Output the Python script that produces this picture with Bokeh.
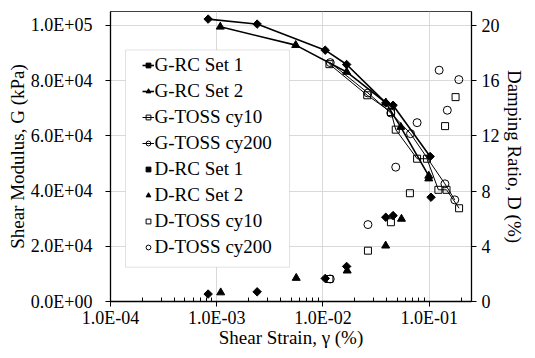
from bokeh.plotting import figure
from bokeh.models import (Range1d, LinearAxis, FixedTicker, CustomJSTickFormatter,
                          Legend, LegendItem, BoxAnnotation)
from bokeh.embed import file_html
from bokeh.resources import INLINE
import numpy as np

# ---- data ----
g_rc1_x = [8.3e-4, 2.4e-3, 0.0105, 0.0167, 0.039, 0.0457, 0.102]
g_rc1_y = [102250, 100440, 91000, 85800, 71900, 71050, 52500]

g_rc2_x = [1.08e-3, 5.54e-3, 0.0167, 0.039, 0.054, 0.099]
g_rc2_y = [99460, 92820, 83100, 72000, 63160, 45500]

g_t10_x = [0.0115, 0.0261, 0.0437, 0.0484, 0.0769, 0.0952, 0.122, 0.1455, 0.191]
g_t10_y = [85930, 74670, 68600, 62220, 51700, 51700, 40440, 40440, 33760]

g_t200_x = [0.0117, 0.0265, 0.0435, 0.0667, 0.1405, 0.174]
g_t200_y = [86500, 75500, 68240, 60770, 42600, 36800]

d_rc1_x = [8.3e-4, 2.4e-3, 0.0105, 0.0167, 0.039, 0.0457, 0.104]
d_rc1_y = [0.54, 0.70, 1.67, 2.54, 6.10, 6.22, 7.55]

d_rc2_x = [1.09e-3, 5.6e-3, 0.0169, 0.0389, 0.0548, 0.099]
d_rc2_y = [0.65, 1.70, 2.23, 4.04, 5.98, 8.90]

d_t10_x = [0.0115, 0.0265, 0.0436, 0.0658, 0.141, 0.177]
d_t10_y = [1.63, 3.68, 5.74, 7.84, 12.7, 14.8]

d_t200_x = [0.0117, 0.0265, 0.0484, 0.0769, 0.124, 0.148, 0.19]
d_t200_y = [1.63, 5.57, 9.73, 12.95, 16.75, 13.85, 16.07]

x_major = [1e-4, 1e-3, 1e-2, 1e-1]
x_minor = [m * d for d in [1e-4, 1e-3, 1e-2, 1e-1] for m in range(2, 10) if m * d <= 0.25]
g_ticks = [0, 20000, 40000, 60000, 80000, 100000]
d_ticks = [0, 4, 8, 12, 16, 20]

x_title = "Shear Strain, \u03b3 (%)"
g_title = "Shear Modulus, G (kPa)"
d_title = "Damping Ratio, D (%)"

FONT = "Liberation Serif"

p = figure(width=527, height=350, x_axis_type="log",
           x_range=Range1d(1e-4, 0.25), y_range=Range1d(0, 105000),
           output_backend="svg", toolbar_location=None,
           min_border_left=110, min_border_right=50,
           min_border_top=11, min_border_bottom=49)
p.extra_y_ranges = {"d": Range1d(0, 21)}
p.outline_line_color = "#404040"
p.background_fill_color = "white"
p.border_fill_color = "white"

fmt = CustomJSTickFormatter(code=r"""
const s = tick.toExponential(1).toUpperCase();
return s.replace(/E([+-])(\d)$/, "E$10$2");
""")

xt = FixedTicker(ticks=x_major, minor_ticks=x_minor)
p.xaxis.ticker = xt
p.xaxis.formatter = fmt
p.yaxis.ticker = FixedTicker(ticks=g_ticks)
p.yaxis.formatter = fmt

raxis = LinearAxis(y_range_name="d", ticker=FixedTicker(ticks=d_ticks))
p.add_layout(raxis, "right")

p.axis.axis_line_color = "black"
p.axis.axis_line_width = 1.3
p.axis.major_tick_line_color = "black"
p.axis.major_tick_out = 5
p.axis.major_tick_in = 0
p.axis.major_label_text_font = FONT
p.axis.major_label_text_font_size = "18px"
p.axis.major_label_text_color = "black"
p.axis.minor_tick_line_color = None
p.axis.axis_label_text_font = FONT
p.axis.axis_label_text_font_size = "19px"
p.axis.axis_label_text_font_style = "normal"
p.axis.axis_label_text_color = "black"

p.xaxis.minor_tick_line_color = "black"
p.xaxis.minor_tick_in = 4
p.xaxis.minor_tick_out = 0
p.xaxis.major_label_standoff = 1
p.xaxis.axis_label = x_title
p.xaxis.axis_label_standoff = -4

p.yaxis[0].major_label_standoff = 13
p.yaxis[0].axis_label = g_title
p.yaxis[0].axis_label_standoff = 0

raxis.major_label_standoff = 5
raxis.axis_label = d_title
raxis.axis_label_standoff = 1

p.xgrid.ticker = xt
p.xgrid.grid_line_color = "#d9d9d9"
p.ygrid.grid_line_color = "#d9d9d9"

diamond = dict(marker="square", angle=np.pi / 4, size=6, fill_color="black", line_color="black")
tri = dict(marker="triangle", size=8, fill_color="black", line_color="black")
sq = dict(marker="square", size=7, fill_color=None, line_color="black", line_width=1)
circ = dict(marker="circle", size=8, fill_color=None, line_color="black", line_width=1)

items = []
l1 = p.line(g_rc1_x, g_rc1_y, line_color="black", line_width=1.6)
s1 = p.scatter(g_rc1_x, g_rc1_y, **diamond)
items.append(LegendItem(label="G-RC Set 1", renderers=[l1, s1]))
l2 = p.line(g_rc2_x, g_rc2_y, line_color="black", line_width=1.6)
s2 = p.scatter(g_rc2_x, g_rc2_y, **tri)
items.append(LegendItem(label="G-RC Set 2", renderers=[l2, s2]))
l3 = p.line(g_t10_x, g_t10_y, line_color="black", line_width=1)
s3 = p.scatter(g_t10_x, g_t10_y, **sq)
items.append(LegendItem(label="G-TOSS cy10", renderers=[l3, s3]))
l4 = p.line(g_t200_x, g_t200_y, line_color="black", line_width=1)
s4 = p.scatter(g_t200_x, g_t200_y, **circ)
items.append(LegendItem(label="G-TOSS cy200", renderers=[l4, s4]))
s5 = p.scatter(d_rc1_x, d_rc1_y, y_range_name="d", **diamond)
items.append(LegendItem(label="D-RC Set 1", renderers=[s5]))
s6 = p.scatter(d_rc2_x, d_rc2_y, y_range_name="d", **tri)
items.append(LegendItem(label="D-RC Set 2", renderers=[s6]))
s7 = p.scatter(d_t10_x, d_t10_y, y_range_name="d", **sq)
items.append(LegendItem(label="D-TOSS cy10", renderers=[s7]))
s8 = p.scatter(d_t200_x, d_t200_y, y_range_name="d", **circ)
items.append(LegendItem(label="D-TOSS cy200", renderers=[s8]))

# legend frame box (screen units relative to the plot frame)
p.add_layout(BoxAnnotation(left=15, right=179, bottom=34.3, top=251.5,
                           left_units="screen", right_units="screen",
                           bottom_units="screen", top_units="screen",
                           fill_color="white", fill_alpha=1,
                           line_color="#a0a0a0", line_width=1))

legend = Legend(items=items, location=(31.5, 43))
legend.label_text_font = FONT
legend.label_text_font_size = "19px"
legend.label_text_color = "black"
legend.border_line_color = None
legend.background_fill_alpha = 0
legend.glyph_width = 12
legend.glyph_height = 22
legend.label_height = 22
legend.label_standoff = 1
legend.spacing = 4
legend.padding = 0
legend.margin = 0
p.add_layout(legend)

open("out.html", "w").write(file_html(p, INLINE))
